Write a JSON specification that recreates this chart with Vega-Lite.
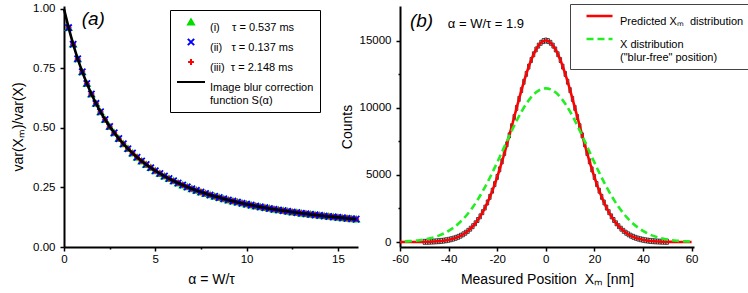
{
  "$schema": "https://vega.github.io/schema/vega-lite/v6.json",
  "background": "white",
  "padding": {"left": 11, "top": 2, "right": 0, "bottom": 0},
  "bounds": "flush",
  "spacing": 42,
  "config": {
    "font": "Liberation Sans",
    "view": {"stroke": null},
    "axis": {"grid": false, "domainColor": "#000", "domainWidth": 2, "tickColor": "#000", "tickWidth": 1.5, "labelFont": "Liberation Sans", "labelFontSize": 11.5, "labelColor": "#000", "titleFont": "Liberation Sans", "titleFontSize": 14, "titleFontWeight": "normal", "titleColor": "#000", "labelFlush": false, "labelOverlap": false},
    "legend": {"labelFont": "Liberation Sans", "labelFontSize": 11, "labelColor": "#000"}
  },
  "datasets": {
    "curve": [
      {"s":"S","a":0,"v":1},{"s":"S","a":0.25,"v":0.9216},{"s":"S","a":0.5,"v":0.8522},{"s":"S","a":0.75,"v":0.7906},{"s":"S","a":1,"v":0.7358},{"s":"S","a":1.25,"v":0.6867},{"s":"S","a":1.5,"v":0.6428},{"s":"S","a":1.75,"v":0.6033},{"s":"S","a":2,"v":0.5677},{"s":"S","a":2.25,"v":0.5355},{"s":"S","a":2.5,"v":0.5063},{"s":"S","a":2.75,"v":0.4797},{"s":"S","a":3,"v":0.4555},{"s":"S","a":3.25,"v":0.4334},{"s":"S","a":3.5,"v":0.4131},{"s":"S","a":3.75,"v":0.3945},{"s":"S","a":4,"v":0.3773},{"s":"S","a":4.25,"v":0.3614},{"s":"S","a":4.5,"v":0.3468},{"s":"S","a":4.75,"v":0.3332},{"s":"S","a":5,"v":0.3205},{"s":"S","a":5.25,"v":0.3088},{"s":"S","a":5.5,"v":0.2978},{"s":"S","a":5.75,"v":0.2875},{"s":"S","a":6,"v":0.2779},{"s":"S","a":6.25,"v":0.2689},{"s":"S","a":6.5,"v":0.2604},{"s":"S","a":6.75,"v":0.2525},{"s":"S","a":7,"v":0.2449},{"s":"S","a":7.25,"v":0.2378},{"s":"S","a":7.5,"v":0.2311},{"s":"S","a":7.75,"v":0.2248},{"s":"S","a":8,"v":0.2188},{"s":"S","a":8.25,"v":0.213},{"s":"S","a":8.5,"v":0.2076},{"s":"S","a":8.75,"v":0.2025},{"s":"S","a":9,"v":0.1975},{"s":"S","a":9.25,"v":0.1928},{"s":"S","a":9.5,"v":0.1884},{"s":"S","a":9.75,"v":0.1841},{"s":"S","a":10,"v":0.18},{"s":"S","a":10.25,"v":0.1761},{"s":"S","a":10.5,"v":0.1723},{"s":"S","a":10.75,"v":0.1687},{"s":"S","a":11,"v":0.1653},{"s":"S","a":11.25,"v":0.162},{"s":"S","a":11.5,"v":0.1588},{"s":"S","a":11.75,"v":0.1557},{"s":"S","a":12,"v":0.1528},{"s":"S","a":12.25,"v":0.1499},{"s":"S","a":12.5,"v":0.1472},{"s":"S","a":12.75,"v":0.1446},{"s":"S","a":13,"v":0.142},{"s":"S","a":13.25,"v":0.1396},{"s":"S","a":13.5,"v":0.1372},{"s":"S","a":13.75,"v":0.1349},{"s":"S","a":14,"v":0.1327},{"s":"S","a":14.25,"v":0.1305},{"s":"S","a":14.5,"v":0.1284},{"s":"S","a":14.75,"v":0.1264},{"s":"S","a":15,"v":0.1244},{"s":"S","a":15.25,"v":0.1225},{"s":"S","a":15.5,"v":0.1207},{"s":"S","a":15.75,"v":0.1189},{"s":"S","a":16,"v":0.1172}
    ],
    "pts": [
      {"s":"i","a":0.25,"v":0.9216},{"s":"i","a":0.5,"v":0.8522},{"s":"i","a":0.75,"v":0.7906},{"s":"i","a":1,"v":0.7358},{"s":"i","a":1.25,"v":0.6867},{"s":"i","a":1.5,"v":0.6428},{"s":"i","a":1.75,"v":0.6033},{"s":"i","a":2,"v":0.5677},{"s":"i","a":2.25,"v":0.5355},{"s":"i","a":2.5,"v":0.5063},{"s":"i","a":2.75,"v":0.4797},{"s":"i","a":3,"v":0.4555},{"s":"i","a":3.25,"v":0.4334},{"s":"i","a":3.5,"v":0.4131},{"s":"i","a":3.75,"v":0.3945},{"s":"i","a":4,"v":0.3773},{"s":"i","a":4.25,"v":0.3614},{"s":"i","a":4.5,"v":0.3468},{"s":"i","a":4.75,"v":0.3332},{"s":"i","a":5,"v":0.3205},{"s":"i","a":5.25,"v":0.3088},{"s":"i","a":5.5,"v":0.2978},{"s":"i","a":5.75,"v":0.2875},{"s":"i","a":6,"v":0.2779},{"s":"i","a":6.25,"v":0.2689},{"s":"i","a":6.5,"v":0.2604},{"s":"i","a":6.75,"v":0.2525},{"s":"i","a":7,"v":0.2449},{"s":"i","a":7.25,"v":0.2378},{"s":"i","a":7.5,"v":0.2311},{"s":"i","a":7.75,"v":0.2248},{"s":"i","a":8,"v":0.2188},{"s":"i","a":8.25,"v":0.213},{"s":"i","a":8.5,"v":0.2076},{"s":"i","a":8.75,"v":0.2025},{"s":"i","a":9,"v":0.1975},{"s":"i","a":9.25,"v":0.1928},{"s":"i","a":9.5,"v":0.1884},{"s":"i","a":9.75,"v":0.1841},{"s":"i","a":10,"v":0.18},{"s":"i","a":10.25,"v":0.1761},{"s":"i","a":10.5,"v":0.1723},{"s":"i","a":10.75,"v":0.1687},{"s":"i","a":11,"v":0.1653},{"s":"i","a":11.25,"v":0.162},{"s":"i","a":11.5,"v":0.1588},{"s":"i","a":11.75,"v":0.1557},{"s":"i","a":12,"v":0.1528},{"s":"i","a":12.25,"v":0.1499},{"s":"i","a":12.5,"v":0.1472},{"s":"i","a":12.75,"v":0.1446},{"s":"i","a":13,"v":0.142},{"s":"i","a":13.25,"v":0.1396},{"s":"i","a":13.5,"v":0.1372},{"s":"i","a":13.75,"v":0.1349},{"s":"i","a":14,"v":0.1327},{"s":"i","a":14.25,"v":0.1305},{"s":"i","a":14.5,"v":0.1284},{"s":"i","a":14.75,"v":0.1264},{"s":"i","a":15,"v":0.1244},{"s":"i","a":15.25,"v":0.1225},{"s":"i","a":15.5,"v":0.1207},{"s":"i","a":15.75,"v":0.1189},{"s":"i","a":16,"v":0.1172},
      {"s":"iii","a":0.25,"v":0.9216},{"s":"iii","a":0.5,"v":0.8522},{"s":"iii","a":0.75,"v":0.7906},{"s":"iii","a":1,"v":0.7358},{"s":"iii","a":1.25,"v":0.6867},{"s":"iii","a":1.5,"v":0.6428},{"s":"iii","a":1.75,"v":0.6033},{"s":"iii","a":2,"v":0.5677},{"s":"iii","a":2.25,"v":0.5355},{"s":"iii","a":2.5,"v":0.5063},{"s":"iii","a":2.75,"v":0.4797},{"s":"iii","a":3,"v":0.4555},{"s":"iii","a":3.25,"v":0.4334},{"s":"iii","a":3.5,"v":0.4131},{"s":"iii","a":3.75,"v":0.3945},{"s":"iii","a":4,"v":0.3773},{"s":"iii","a":4.25,"v":0.3614},{"s":"iii","a":4.5,"v":0.3468},{"s":"iii","a":4.75,"v":0.3332},{"s":"iii","a":5,"v":0.3205},{"s":"iii","a":5.25,"v":0.3088},{"s":"iii","a":5.5,"v":0.2978},{"s":"iii","a":5.75,"v":0.2875},{"s":"iii","a":6,"v":0.2779},{"s":"iii","a":6.25,"v":0.2689},{"s":"iii","a":6.5,"v":0.2604},{"s":"iii","a":6.75,"v":0.2525},{"s":"iii","a":7,"v":0.2449},{"s":"iii","a":7.25,"v":0.2378},{"s":"iii","a":7.5,"v":0.2311},{"s":"iii","a":7.75,"v":0.2248},{"s":"iii","a":8,"v":0.2188},{"s":"iii","a":8.25,"v":0.213},{"s":"iii","a":8.5,"v":0.2076},{"s":"iii","a":8.75,"v":0.2025},{"s":"iii","a":9,"v":0.1975},{"s":"iii","a":9.25,"v":0.1928},{"s":"iii","a":9.5,"v":0.1884},{"s":"iii","a":9.75,"v":0.1841},{"s":"iii","a":10,"v":0.18},{"s":"iii","a":10.25,"v":0.1761},{"s":"iii","a":10.5,"v":0.1723},{"s":"iii","a":10.75,"v":0.1687},{"s":"iii","a":11,"v":0.1653},{"s":"iii","a":11.25,"v":0.162},{"s":"iii","a":11.5,"v":0.1588},{"s":"iii","a":11.75,"v":0.1557},{"s":"iii","a":12,"v":0.1528},{"s":"iii","a":12.25,"v":0.1499},{"s":"iii","a":12.5,"v":0.1472},{"s":"iii","a":12.75,"v":0.1446},{"s":"iii","a":13,"v":0.142},{"s":"iii","a":13.25,"v":0.1396},{"s":"iii","a":13.5,"v":0.1372},{"s":"iii","a":13.75,"v":0.1349},{"s":"iii","a":14,"v":0.1327},{"s":"iii","a":14.25,"v":0.1305},{"s":"iii","a":14.5,"v":0.1284},{"s":"iii","a":14.75,"v":0.1264},{"s":"iii","a":15,"v":0.1244},{"s":"iii","a":15.25,"v":0.1225},{"s":"iii","a":15.5,"v":0.1207},{"s":"iii","a":15.75,"v":0.1189},{"s":"iii","a":16,"v":0.1172},
      {"s":"ii","a":0.25,"v":0.9216},{"s":"ii","a":0.5,"v":0.8522},{"s":"ii","a":0.75,"v":0.7906},{"s":"ii","a":1,"v":0.7358},{"s":"ii","a":1.25,"v":0.6867},{"s":"ii","a":1.5,"v":0.6428},{"s":"ii","a":1.75,"v":0.6033},{"s":"ii","a":2,"v":0.5677},{"s":"ii","a":2.25,"v":0.5355},{"s":"ii","a":2.5,"v":0.5063},{"s":"ii","a":2.75,"v":0.4797},{"s":"ii","a":3,"v":0.4555},{"s":"ii","a":3.25,"v":0.4334},{"s":"ii","a":3.5,"v":0.4131},{"s":"ii","a":3.75,"v":0.3945},{"s":"ii","a":4,"v":0.3773},{"s":"ii","a":4.25,"v":0.3614},{"s":"ii","a":4.5,"v":0.3468},{"s":"ii","a":4.75,"v":0.3332},{"s":"ii","a":5,"v":0.3205},{"s":"ii","a":5.25,"v":0.3088},{"s":"ii","a":5.5,"v":0.2978},{"s":"ii","a":5.75,"v":0.2875},{"s":"ii","a":6,"v":0.2779},{"s":"ii","a":6.25,"v":0.2689},{"s":"ii","a":6.5,"v":0.2604},{"s":"ii","a":6.75,"v":0.2525},{"s":"ii","a":7,"v":0.2449},{"s":"ii","a":7.25,"v":0.2378},{"s":"ii","a":7.5,"v":0.2311},{"s":"ii","a":7.75,"v":0.2248},{"s":"ii","a":8,"v":0.2188},{"s":"ii","a":8.25,"v":0.213},{"s":"ii","a":8.5,"v":0.2076},{"s":"ii","a":8.75,"v":0.2025},{"s":"ii","a":9,"v":0.1975},{"s":"ii","a":9.25,"v":0.1928},{"s":"ii","a":9.5,"v":0.1884},{"s":"ii","a":9.75,"v":0.1841},{"s":"ii","a":10,"v":0.18},{"s":"ii","a":10.25,"v":0.1761},{"s":"ii","a":10.5,"v":0.1723},{"s":"ii","a":10.75,"v":0.1687},{"s":"ii","a":11,"v":0.1653},{"s":"ii","a":11.25,"v":0.162},{"s":"ii","a":11.5,"v":0.1588},{"s":"ii","a":11.75,"v":0.1557},{"s":"ii","a":12,"v":0.1528},{"s":"ii","a":12.25,"v":0.1499},{"s":"ii","a":12.5,"v":0.1472},{"s":"ii","a":12.75,"v":0.1446},{"s":"ii","a":13,"v":0.142},{"s":"ii","a":13.25,"v":0.1396},{"s":"ii","a":13.5,"v":0.1372},{"s":"ii","a":13.75,"v":0.1349},{"s":"ii","a":14,"v":0.1327},{"s":"ii","a":14.25,"v":0.1305},{"s":"ii","a":14.5,"v":0.1284},{"s":"ii","a":14.75,"v":0.1264},{"s":"ii","a":15,"v":0.1244},{"s":"ii","a":15.25,"v":0.1225},{"s":"ii","a":15.5,"v":0.1207},{"s":"ii","a":15.75,"v":0.1189},{"s":"ii","a":16,"v":0.1172}
    ],
    "hist": [
      {"lo":-50.5,"hi":-49.5,"c":13},{"lo":-49.5,"hi":-48.5,"c":17},{"lo":-48.5,"hi":-47.5,"c":22},{"lo":-47.5,"hi":-46.5,"c":29},{"lo":-46.5,"hi":-45.5,"c":38},{"lo":-45.5,"hi":-44.5,"c":49},{"lo":-44.5,"hi":-43.5,"c":63},{"lo":-43.5,"hi":-42.5,"c":81},{"lo":-42.5,"hi":-41.5,"c":102},{"lo":-41.5,"hi":-40.5,"c":130},
      {"lo":-40.5,"hi":-39.5,"c":163},{"lo":-39.5,"hi":-38.5,"c":204},{"lo":-38.5,"hi":-37.5,"c":253},{"lo":-37.5,"hi":-36.5,"c":313},{"lo":-36.5,"hi":-35.5,"c":385},{"lo":-35.5,"hi":-34.5,"c":470},{"lo":-34.5,"hi":-33.5,"c":572},{"lo":-33.5,"hi":-32.5,"c":691},{"lo":-32.5,"hi":-31.5,"c":830},{"lo":-31.5,"hi":-30.5,"c":992},
      {"lo":-30.5,"hi":-29.5,"c":1178},{"lo":-29.5,"hi":-28.5,"c":1392},{"lo":-28.5,"hi":-27.5,"c":1636},{"lo":-27.5,"hi":-26.5,"c":1910},{"lo":-26.5,"hi":-25.5,"c":2219},{"lo":-25.5,"hi":-24.5,"c":2564},{"lo":-24.5,"hi":-23.5,"c":2944},{"lo":-23.5,"hi":-22.5,"c":3363},{"lo":-22.5,"hi":-21.5,"c":3819},{"lo":-21.5,"hi":-20.5,"c":4312},
      {"lo":-20.5,"hi":-19.5,"c":4842},{"lo":-19.5,"hi":-18.5,"c":5407},{"lo":-18.5,"hi":-17.5,"c":6003},{"lo":-17.5,"hi":-16.5,"c":6627},{"lo":-16.5,"hi":-15.5,"c":7275},{"lo":-15.5,"hi":-14.5,"c":7941},{"lo":-14.5,"hi":-13.5,"c":8620},{"lo":-13.5,"hi":-12.5,"c":9303},{"lo":-12.5,"hi":-11.5,"c":9985},{"lo":-11.5,"hi":-10.5,"c":10655},
      {"lo":-10.5,"hi":-9.5,"c":11307},{"lo":-9.5,"hi":-8.5,"c":11931},{"lo":-8.5,"hi":-7.5,"c":12518},{"lo":-7.5,"hi":-6.5,"c":13060},{"lo":-6.5,"hi":-5.5,"c":13549},{"lo":-5.5,"hi":-4.5,"c":13977},{"lo":-4.5,"hi":-3.5,"c":14337},{"lo":-3.5,"hi":-2.5,"c":14623},{"lo":-2.5,"hi":-1.5,"c":14831},{"lo":-1.5,"hi":-0.5,"c":14958},
      {"lo":-0.5,"hi":0.5,"c":15000},
      {"lo":0.5,"hi":1.5,"c":14958},{"lo":1.5,"hi":2.5,"c":14831},{"lo":2.5,"hi":3.5,"c":14623},{"lo":3.5,"hi":4.5,"c":14337},{"lo":4.5,"hi":5.5,"c":13977},{"lo":5.5,"hi":6.5,"c":13549},{"lo":6.5,"hi":7.5,"c":13060},{"lo":7.5,"hi":8.5,"c":12518},{"lo":8.5,"hi":9.5,"c":11931},{"lo":9.5,"hi":10.5,"c":11307},
      {"lo":10.5,"hi":11.5,"c":10655},{"lo":11.5,"hi":12.5,"c":9985},{"lo":12.5,"hi":13.5,"c":9303},{"lo":13.5,"hi":14.5,"c":8620},{"lo":14.5,"hi":15.5,"c":7941},{"lo":15.5,"hi":16.5,"c":7275},{"lo":16.5,"hi":17.5,"c":6627},{"lo":17.5,"hi":18.5,"c":6003},{"lo":18.5,"hi":19.5,"c":5407},{"lo":19.5,"hi":20.5,"c":4842},
      {"lo":20.5,"hi":21.5,"c":4312},{"lo":21.5,"hi":22.5,"c":3819},{"lo":22.5,"hi":23.5,"c":3363},{"lo":23.5,"hi":24.5,"c":2944},{"lo":24.5,"hi":25.5,"c":2564},{"lo":25.5,"hi":26.5,"c":2219},{"lo":26.5,"hi":27.5,"c":1910},{"lo":27.5,"hi":28.5,"c":1636},{"lo":28.5,"hi":29.5,"c":1392},{"lo":29.5,"hi":30.5,"c":1178},
      {"lo":30.5,"hi":31.5,"c":992},{"lo":31.5,"hi":32.5,"c":830},{"lo":32.5,"hi":33.5,"c":691},{"lo":33.5,"hi":34.5,"c":572},{"lo":34.5,"hi":35.5,"c":470},{"lo":35.5,"hi":36.5,"c":385},{"lo":36.5,"hi":37.5,"c":313},{"lo":37.5,"hi":38.5,"c":253},{"lo":38.5,"hi":39.5,"c":204},{"lo":39.5,"hi":40.5,"c":163},
      {"lo":40.5,"hi":41.5,"c":130},{"lo":41.5,"hi":42.5,"c":102},{"lo":42.5,"hi":43.5,"c":81},{"lo":43.5,"hi":44.5,"c":63},{"lo":44.5,"hi":45.5,"c":49},{"lo":45.5,"hi":46.5,"c":38},{"lo":46.5,"hi":47.5,"c":29},{"lo":47.5,"hi":48.5,"c":22},{"lo":48.5,"hi":49.5,"c":17},{"lo":49.5,"hi":50.5,"c":13}
    ],
    "pdf": [
      {"d":"P","x":-60,"y":1},{"d":"P","x":-58,"y":1},{"d":"P","x":-56,"y":2},{"d":"P","x":-54,"y":4},{"d":"P","x":-52,"y":7},{"d":"P","x":-50,"y":13},{"d":"P","x":-48,"y":22},{"d":"P","x":-46,"y":38},{"d":"P","x":-44,"y":63},{"d":"P","x":-42,"y":102},{"d":"P","x":-40,"y":163},{"d":"P","x":-38,"y":253},{"d":"P","x":-36,"y":385},{"d":"P","x":-34,"y":572},{"d":"P","x":-32,"y":830},{"d":"P","x":-30,"y":1178},{"d":"P","x":-28,"y":1636},{"d":"P","x":-26,"y":2219},{"d":"P","x":-24,"y":2944},{"d":"P","x":-22,"y":3819},{"d":"P","x":-20,"y":4842},{"d":"P","x":-18,"y":6003},{"d":"P","x":-16,"y":7275},{"d":"P","x":-14,"y":8620},{"d":"P","x":-12,"y":9985},{"d":"P","x":-10,"y":11307},{"d":"P","x":-8,"y":12518},{"d":"P","x":-6,"y":13549},{"d":"P","x":-4,"y":14337},{"d":"P","x":-2,"y":14831},{"d":"P","x":0,"y":15000},{"d":"P","x":2,"y":14831},{"d":"P","x":4,"y":14337},{"d":"P","x":6,"y":13549},{"d":"P","x":8,"y":12518},{"d":"P","x":10,"y":11307},{"d":"P","x":12,"y":9985},{"d":"P","x":14,"y":8620},{"d":"P","x":16,"y":7275},{"d":"P","x":18,"y":6003},{"d":"P","x":20,"y":4842},{"d":"P","x":22,"y":3819},{"d":"P","x":24,"y":2944},{"d":"P","x":26,"y":2219},{"d":"P","x":28,"y":1636},{"d":"P","x":30,"y":1178},{"d":"P","x":32,"y":830},{"d":"P","x":34,"y":572},{"d":"P","x":36,"y":385},{"d":"P","x":38,"y":253},{"d":"P","x":40,"y":163},{"d":"P","x":42,"y":102},{"d":"P","x":44,"y":63},{"d":"P","x":46,"y":38},{"d":"P","x":48,"y":22},{"d":"P","x":50,"y":13},{"d":"P","x":52,"y":7},{"d":"P","x":54,"y":4},{"d":"P","x":56,"y":2},{"d":"P","x":58,"y":1},{"d":"P","x":60,"y":1},
      {"d":"X","x":-58,"y":45},{"d":"X","x":-56,"y":66},{"d":"X","x":-54,"y":95},{"d":"X","x":-52,"y":134},{"d":"X","x":-50,"y":188},{"d":"X","x":-48,"y":259},{"d":"X","x":-46,"y":353},{"d":"X","x":-44,"y":475},{"d":"X","x":-42,"y":630},{"d":"X","x":-40,"y":824},{"d":"X","x":-38,"y":1065},{"d":"X","x":-36,"y":1359},{"d":"X","x":-34,"y":1710},{"d":"X","x":-32,"y":2125},{"d":"X","x":-30,"y":2605},{"d":"X","x":-28,"y":3153},{"d":"X","x":-26,"y":3766},{"d":"X","x":-24,"y":4438},{"d":"X","x":-22,"y":5163},{"d":"X","x":-20,"y":5927},{"d":"X","x":-18,"y":6716},{"d":"X","x":-16,"y":7510},{"d":"X","x":-14,"y":8289},{"d":"X","x":-12,"y":9028},{"d":"X","x":-10,"y":9706},{"d":"X","x":-8,"y":10298},{"d":"X","x":-6,"y":10783},{"d":"X","x":-4,"y":11143},{"d":"X","x":-2,"y":11365},{"d":"X","x":0,"y":11440},{"d":"X","x":2,"y":11365},{"d":"X","x":4,"y":11143},{"d":"X","x":6,"y":10783},{"d":"X","x":8,"y":10298},{"d":"X","x":10,"y":9706},{"d":"X","x":12,"y":9028},{"d":"X","x":14,"y":8289},{"d":"X","x":16,"y":7510},{"d":"X","x":18,"y":6716},{"d":"X","x":20,"y":5927},{"d":"X","x":22,"y":5163},{"d":"X","x":24,"y":4438},{"d":"X","x":26,"y":3766},{"d":"X","x":28,"y":3153},{"d":"X","x":30,"y":2605},{"d":"X","x":32,"y":2125},{"d":"X","x":34,"y":1710},{"d":"X","x":36,"y":1359},{"d":"X","x":38,"y":1065},{"d":"X","x":40,"y":824},{"d":"X","x":42,"y":630},{"d":"X","x":44,"y":475},{"d":"X","x":46,"y":353},{"d":"X","x":48,"y":259},{"d":"X","x":50,"y":188},{"d":"X","x":52,"y":134},{"d":"X","x":54,"y":95},{"d":"X","x":56,"y":66},{"d":"X","x":58,"y":45},{"d":"X","x":60,"y":31}
    ]
  },
  "resolve": {
    "scale": {"stroke": "independent", "fill": "independent", "shape": "independent", "strokeDash": "independent", "size": "independent"},
    "legend": {"stroke": "independent", "fill": "independent", "shape": "independent", "strokeDash": "independent", "size": "independent"}
  },
  "hconcat": [
    {
      "width": 294,
      "height": 241,
      "layer": [
        {
          "data": {"name": "pts"},
          "mark": {"type": "point", "opacity": 1, "strokeWidth": 1.8},
          "encoding": {
            "x": {"field": "a", "type": "quantitative", "scale": {"domain": [0, 16.1], "nice": false, "zero": false},
              "axis": {"title": "α = W/τ", "values": [0, 2.5, 5, 7.5, 10, 12.5, 15], "labelExpr": "datum.value % 5 === 0 ? '' + datum.value : ''", "tickSize": {"condition": {"test": "datum.value % 5 !== 0", "value": 2}, "value": 4}, "labelPadding": 2, "titlePadding": 8}},
            "y": {"field": "v", "type": "quantitative", "scale": {"domain": [0, 1.0126], "nice": false},
              "axis": {"title": "var(Xₘ)/var(X)", "values": [0, 0.25, 0.5, 0.75, 1], "format": ".2f", "tickSize": 4, "labelPadding": 5, "titlePadding": 7}},
            "shape": {"field": "s", "type": "nominal",
              "scale": {"domain": ["i", "ii", "iii", "S"], "range": ["triangle-up", "M-1,-1L1,1M-1,1L1,-1", "M-1,0L1,0M0,-1L0,1", "stroke"]},
              "legend": {"orient": "none", "legendX": 106, "legendY": 4, "title": null, "strokeColor": "#000", "fillColor": "#fff", "padding": 6, "clipHeight": 12, "symbolStrokeWidth": 2, "labelOffset": 4, "rowPadding": 3, "labelBaseline": "top",
                "labelExpr": "datum.value === 'i' ? '(i)\u00a0\u00a0\u00a0 τ = 0.537 ms' : datum.value === 'ii' ? '(ii)\u00a0\u00a0 τ = 0.137 ms' : datum.value === 'iii' ? '(iii)\u00a0 τ = 2.148 ms' : ['Image blur correction', 'function S(α)']",
                "encode": {"labels": {"lineHeight": {"value": 13}}}}},
            "size": {"field": "s", "type": "nominal", "scale": {"type": "ordinal", "domain": ["i", "ii", "iii", "S"], "range": [34, 40, 34, 784]}},
            "fill": {"field": "s", "type": "nominal", "scale": {"domain": ["i", "ii", "iii", "S"], "range": ["#00dd00", "transparent", "transparent", "transparent"]}},
            "stroke": {"field": "s", "type": "nominal", "scale": {"domain": ["i", "ii", "iii", "S"], "range": ["#00dd00", "#0000ff", "#ff0000", "#000000"]}}
          }
        },
        {
          "data": {"name": "curve"},
          "mark": {"type": "line", "strokeWidth": 2.6},
          "encoding": {
            "x": {"field": "a", "type": "quantitative"},
            "y": {"field": "v", "type": "quantitative"},
            "stroke": {"field": "s", "type": "nominal", "scale": {"domain": ["i", "ii", "iii", "S"], "range": ["#00dd00", "#0000ff", "#ff0000", "#000000"]}}
          }
        },
        {
          "data": {"values": [{}]},
          "mark": {"type": "text", "fontSize": 19, "fontStyle": "italic", "align": "left", "baseline": "alphabetic", "font": "Liberation Sans"},
          "encoding": {"x": {"datum": 0.97}, "y": {"datum": 0.933}, "text": {"value": "(a)"}}
        }
      ]
    },
    {
      "width": 294,
      "height": 241,
      "layer": [
        {
          "data": {"name": "hist"},
          "mark": {"type": "bar", "fill": "#d4d4d4", "stroke": "#000", "strokeWidth": 0.7},
          "encoding": {
            "x": {"field": "lo", "type": "quantitative", "scale": {"domain": [-60, 61], "nice": false, "zero": false},
              "axis": {"title": "Measured Position\u00a0\u00a0Xₘ [nm]", "values": [-60, -50, -40, -30, -20, -10, 0, 10, 20, 30, 40, 50, 60], "labelExpr": "datum.value % 20 === 0 ? '' + datum.value : ''", "tickSize": {"condition": {"test": "datum.value % 20 !== 0", "value": 2}, "value": 4}, "labelPadding": 2, "titlePadding": 8}},
            "x2": {"field": "hi"},
            "y": {"field": "c", "type": "quantitative", "scale": {"domain": [0, 17200], "nice": false},
              "axis": {"title": "Counts", "values": [0, 2500, 5000, 7500, 10000, 12500, 15000], "labelExpr": "datum.value % 5000 === 0 ? '' + datum.value : ''", "tickSize": {"condition": {"test": "datum.value % 5000 !== 0", "value": 2}, "value": 4}, "labelPadding": 5, "titlePadding": 5}}
          }
        },
        {
          "data": {"name": "pdf"},
          "mark": {"type": "line", "strokeWidth": 2.6, "interpolate": "monotone"},
          "encoding": {
            "x": {"field": "x", "type": "quantitative"},
            "y": {"field": "y", "type": "quantitative"},
            "stroke": {"field": "d", "type": "nominal", "scale": {"domain": ["P", "X"], "range": ["#ff0000", "#22ee22"]},
              "legend": {"orient": "none", "legendX": 170, "legendY": -2, "title": null, "strokeColor": "#444", "fillColor": "#fff", "padding": 6, "symbolOffset": 9, "symbolSize": 676, "clipHeight": 12, "symbolStrokeWidth": 2.5, "labelOffset": 6, "rowPadding": 6, "labelBaseline": "top", "labelLimit": 168,
                "labelExpr": "datum.value === 'P' ? 'Predicted Xₘ\u00a0 distribution\u00a0\u00a0\u00a0\u00a0\u00a0\u00a0\u00a0\u00a0\u00a0\u00a0' : ['X distribution', '(\"blur-free\" position)']",
                "encode": {"labels": {"lineHeight": {"value": 12}}}}},
            "strokeDash": {"field": "d", "type": "nominal", "scale": {"domain": ["P", "X"], "range": [[1, 0], [7, 4]]}}
          }
        },
        {
          "data": {"values": [{}]},
          "mark": {"type": "text", "fontSize": 19, "fontStyle": "italic", "align": "left", "baseline": "alphabetic", "font": "Liberation Sans"},
          "encoding": {"x": {"datum": -55.9}, "y": {"datum": 15987}, "text": {"value": "(b)"}}
        },
        {
          "data": {"values": [{}]},
          "mark": {"type": "text", "fontSize": 13, "align": "left", "baseline": "alphabetic", "font": "Liberation Sans"},
          "encoding": {"x": {"datum": -40.3}, "y": {"datum": 15900}, "text": {"value": "α = W/τ = 1.9"}}
        }
      ]
    }
  ]
}
